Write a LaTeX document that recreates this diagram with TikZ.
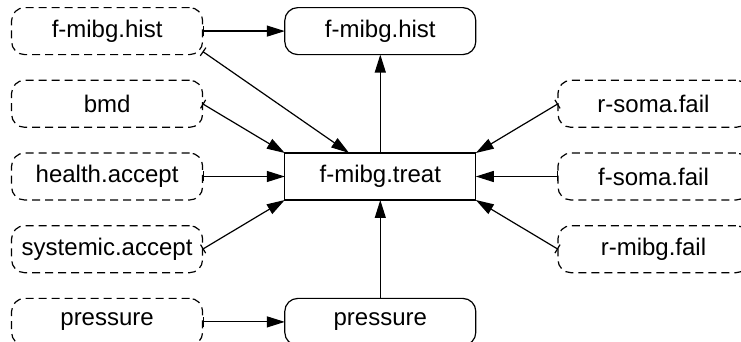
\documentclass[tikz,border=0pt]{standalone}
\usepackage{fontspec}
\setmainfont{Liberation Sans}
\usetikzlibrary{arrows.meta}

\begin{document}
\begin{tikzpicture} [x=0.5pt, y=-0.5pt,
    box/.style={draw, line width=0.6pt, minimum width=95.5pt, minimum height=23.5pt, inner sep=2pt, outer sep=0pt, font=\fontsize{12}{14}\selectfont},
    given/.style={box, rounded corners=6.5pt, dash pattern=on 4pt off 2.5pt},
    kept/.style={box, rounded corners=6.5pt},
    link/.style={{Bar[width=5pt]}-{Triangle[length=9pt,width=5.5pt]}, line width=0.6pt},
    into/.style={-{Triangle[length=9pt,width=5.5pt]}, line width=0.6pt}]
                \useasboundingbox (0,0) rectangle (741,342);
                \matrix[anchor=north west, inner sep=0pt, outer sep=0pt, column sep=40.5pt, row sep=12.25pt, nodes={anchor=center}] at (11,7) {
                    \node[given] (hist in) {f-mibg.hist}; & \node[kept] (hist) {f-mibg.hist}; & \\
                    \node[given] (bmd) {bmd}; & & \node[given] (rsoma) {r-soma.fail}; \\
                    \node[given] (health) {health.accept}; & \node[box] (treat) {f-mibg.treat}; & \node[given] (fsoma) {f-soma.fail}; \\
                    \node[given] (systemic) {systemic.accept}; & & \node[given] (rmibg) {r-mibg.fail}; \\
                    \node[given] (pressure in) {pressure}; & \node[kept] (pressure) {pressure}; & \\
                };
                \draw[link] (hist in.east) -- (hist.west);
                \draw[link] (hist in.-12) -- (treat.143);
                \draw[link] (bmd.east) -- (treat.north west);
                \draw[link] (health.east) -- (treat.west);
                \draw[link] (systemic.east) -- (treat.south west);
                \draw[link] (pressure in.east) -- (pressure.west);
                \draw[link] (rsoma.west) -- (treat.north east);
                \draw[link] (fsoma.west) -- (treat.east);
                \draw[link] (rmibg.west) -- (treat.south east);
                \draw[into] (treat.north) -- (hist.south);
                \draw[into] (pressure.north) -- (treat.south);
            \end{tikzpicture}
\end{document}
